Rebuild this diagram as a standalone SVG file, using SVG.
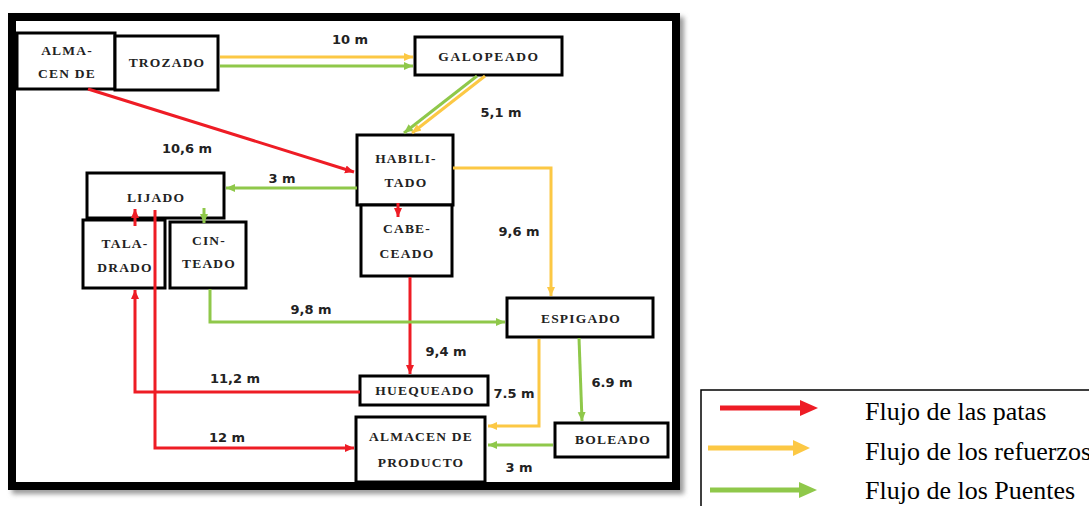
<svg xmlns="http://www.w3.org/2000/svg" width="1089" height="506" viewBox="0 0 1089 506">
<style>
.box{fill:#fff;stroke:#000;stroke-width:3}
.nt{font-family:"Liberation Serif","Times New Roman",serif;font-weight:bold;font-size:13.5px;fill:#222;text-anchor:middle;letter-spacing:1.2px}
.lb{font-family:"DejaVu Sans",Verdana,sans-serif;font-weight:bold;font-size:13px;fill:#222;text-anchor:middle}
.r{fill:none;stroke:#ee1c25;stroke-width:3;marker-end:url(#ar)}
.y{fill:none;stroke:#fcc844;stroke-width:3;marker-end:url(#ay)}
.g{fill:none;stroke:#8fc84a;stroke-width:3;marker-end:url(#ag)}
.lg{font-family:"Liberation Serif","Times New Roman",serif;font-size:26px;fill:#000}
</style>
<defs>
<marker id="ar" markerUnits="userSpaceOnUse" markerWidth="10" markerHeight="10" refX="9" refY="5" orient="auto"><path d="M0,1 L9,5 L0,9 Z" fill="#ee1c25"/></marker>
<marker id="ay" markerUnits="userSpaceOnUse" markerWidth="10" markerHeight="10" refX="9" refY="5" orient="auto"><path d="M0,1 L9,5 L0,9 Z" fill="#fcc844"/></marker>
<marker id="ag" markerUnits="userSpaceOnUse" markerWidth="10" markerHeight="10" refX="9" refY="5" orient="auto"><path d="M0,1 L9,5 L0,9 Z" fill="#8fc84a"/></marker>
<filter id="sh" x="-5%" y="-5%" width="110%" height="110%"><feGaussianBlur stdDeviation="2.5"/></filter>
</defs>
<rect width="1089" height="506" fill="#fff"/>
<!-- frame -->
<rect x="16" y="21" width="664" height="469" fill="none" stroke="#999" stroke-width="8" filter="url(#sh)"/>
<rect x="12" y="17" width="664" height="469" fill="#fff" stroke="#000" stroke-width="8"/>

<g id="almacen-de"><rect class="box" x="17" y="33" width="98" height="56"/><text class="nt" x="67" y="55">ALMA-</text><text class="nt" x="67" y="78">CEN DE</text></g>
<g id="trozado"><rect class="box" x="115" y="36" width="103" height="54"/><text class="nt" x="167" y="67">TROZADO</text></g>
<g id="galopeado"><rect class="box" x="415" y="37" width="147" height="38"/><text class="nt" x="489" y="61" style="letter-spacing:1.6px">GALOPEADO</text></g>
<g id="habilitado"><rect class="box" x="357" y="135" width="96" height="70"/><text class="nt" x="406" y="163">HABILI-</text><text class="nt" x="406" y="187">TADO</text></g>
<g id="cabeceado"><rect class="box" x="361" y="205" width="91" height="71"/><text class="nt" x="407" y="233">CABE-</text><text class="nt" x="407" y="258">CEADO</text></g>
<g id="lijado"><rect class="box" x="87" y="173" width="137" height="45"/><text class="nt" x="156" y="202">LIJADO</text></g>
<g id="taladrado"><rect class="box" x="83" y="220" width="82" height="68"/><text class="nt" x="125" y="248">TALA-</text><text class="nt" x="125" y="272">DRADO</text></g>
<g id="cinteado"><rect class="box" x="170" y="222" width="76" height="66"/><text class="nt" x="209" y="245">CIN-</text><text class="nt" x="209" y="268">TEADO</text></g>
<g id="espigado"><rect class="box" x="507" y="298" width="146" height="39"/><text class="nt" x="581" y="323">ESPIGADO</text></g>
<g id="huequeado"><rect class="box" x="360" y="376" width="128" height="29"/><text class="nt" x="425" y="395">HUEQUEADO</text></g>
<g id="almacen-producto"><rect class="box" x="356" y="417" width="129" height="65"/><text class="nt" x="421" y="441">ALMACEN DE</text><text class="nt" x="421" y="467">PRODUCTO</text></g>
<g id="boleado"><rect class="box" x="555" y="423" width="113" height="34"/><text class="nt" x="613" y="444">BOLEADO</text></g>

<g id="connectors">
<path class="y" d="M220,57 H413"/>
<path class="g" d="M220,66 H413"/>
<path class="g" d="M477,76 L404,133"/>
<path class="y" d="M485,76 L412,133"/>
<path class="r" d="M88,89 L354,172"/>
<path class="g" d="M357,188 H226"/>
<path class="y" d="M453,168 H551 V296"/>
<path class="r" d="M398,203 V217"/>
<path class="r" d="M410,277 V374"/>
<path class="g" d="M210,289 V322 H505"/>
<path class="g" d="M204,208 V223"/>
<path class="r" d="M360,392 H135 V290"/>
<path class="r" d="M135,226 V209"/>
<path class="r" d="M155,210 V448 H354"/>
<path class="y" d="M539,339 V426 H488"/>
<path class="g" d="M579,338 L582,421"/>
<path class="g" d="M553,445 H488"/>
</g>

<g id="labels">
<text class="lb" x="350" y="44">10 m</text>
<text class="lb" x="501" y="117">5,1 m</text>
<text class="lb" x="187" y="153">10,6  m</text>
<text class="lb" x="282" y="183">3 m</text>
<text class="lb" x="519" y="236">9,6 m</text>
<text class="lb" x="311" y="314">9,8 m</text>
<text class="lb" x="446" y="356">9,4 m</text>
<text class="lb" x="235" y="383">11,2 m</text>
<text class="lb" x="514" y="398">7.5 m</text>
<text class="lb" x="612" y="387">6.9 m</text>
<text class="lb" x="227" y="442">12 m</text>
<text class="lb" x="519" y="472">3 m</text>
</g>

<g id="legend">
<rect x="701" y="390" width="400" height="140" fill="#fff" stroke="#000" stroke-width="1.5"/>
<line x1="720" y1="408" x2="802" y2="408" stroke="#ee1c25" stroke-width="5"/>
<path d="M800,400 L818,408 L800,416 Z" fill="#ee1c25"/>
<line x1="708" y1="448" x2="795" y2="448" stroke="#fcc844" stroke-width="5"/>
<path d="M793,440 L810,448 L793,456 Z" fill="#fcc844"/>
<line x1="710" y1="490" x2="801" y2="490" stroke="#8fc84a" stroke-width="5"/>
<path d="M799,482 L817,490 L799,498 Z" fill="#8fc84a"/>
<text class="lg" x="865" y="420">Flujo de las patas</text>
<text class="lg" x="865" y="460">Flujo de los refuerzos</text>
<text class="lg" x="865" y="499">Flujo de los Puentes</text>
</g>
</svg>
